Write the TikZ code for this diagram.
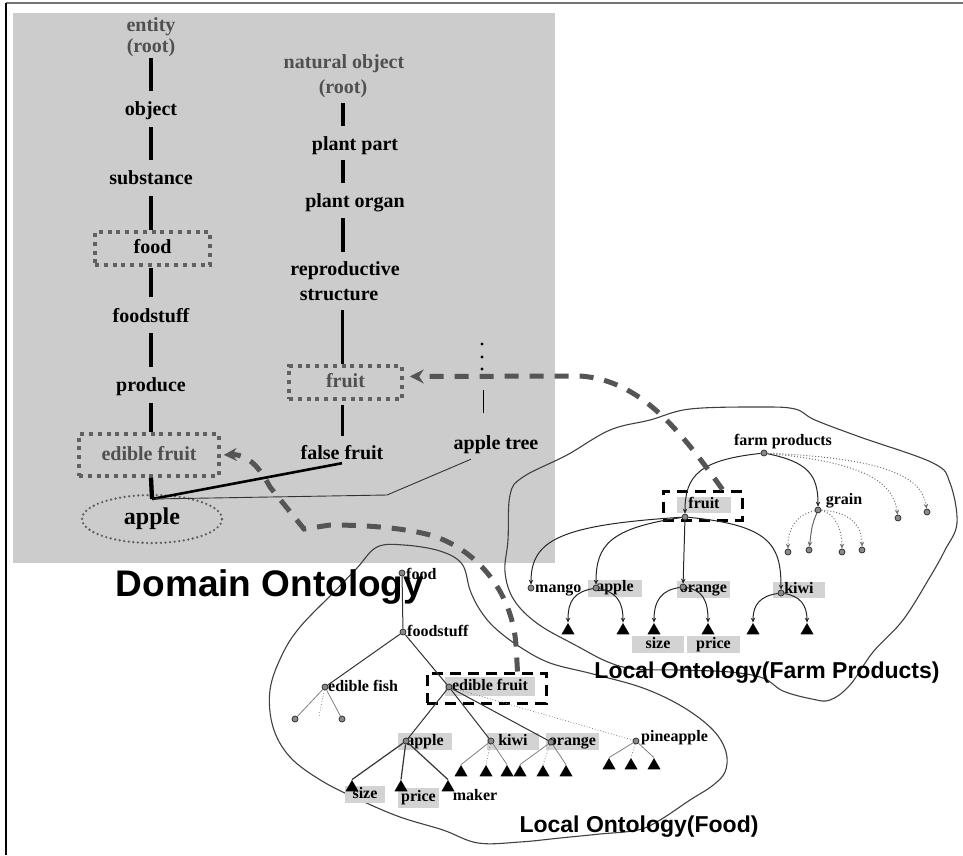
\documentclass[tikz,border=0pt]{standalone}
\usepackage{fontspec}
\setmainfont{Liberation Serif}
\newfontfamily\headfont{Liberation Sans}
\usetikzlibrary{arrows.meta,shapes.geometric}
\definecolor{bggray}{HTML}{CCCCCC}
\definecolor{lblgray}{HTML}{D3D3D3}
\definecolor{txtgray}{HTML}{505050}
\definecolor{boxgray}{HTML}{606060}
\definecolor{dashgray}{HTML}{555555}
\definecolor{dotfill}{HTML}{8A8A8A}
\begin{document}
\begin{tikzpicture}[x=1pt,y=-1pt,
  dl/.style={font=\fontsize{20}{22}\selectfont\bfseries, inner sep=0pt, text height=14pt, text depth=4pt},
  dlg/.style={dl, text=txtgray},
  bar/.style={line width=4.3pt},
  dbox/.style={dl, draw=boxgray, line width=3.5pt, dash pattern=on 4pt off 4.8pt},
  tl/.style={font=\fontsize{16}{18}\selectfont\bfseries, inner sep=0pt, text height=11pt, text depth=3.5pt},
  lbg/.style={tl, fill=lblgray},
  ndot/.style={circle, draw=black!85, fill=dotfill, line width=0.7pt, minimum size=6pt, inner sep=0pt},
  tri/.style={regular polygon, regular polygon sides=3, fill=black, minimum size=15pt, inner sep=0pt},
  arr/.style={draw=black!85, line width=1pt, -{Stealth[length=5pt,width=4.5pt]}},
  darr/.style={arr, draw=black!55, dotted},
  ln/.style={draw=black!80, line width=1pt},
  gln/.style={draw=black!50, line width=0.8pt},
  dln/.style={gln, dotted},
  blob/.style={draw=black!75, line width=1.1pt},
  bigdash/.style={draw=dashgray, line width=5pt, dash pattern=on 14pt off 11pt},
  blkdash/.style={draw=black, line width=3pt, dash pattern=on 11pt off 7pt},
  ttl/.style={font=\headfont\bfseries, inner sep=0pt}
]
\useasboundingbox (0,0) rectangle (963,855);
\draw[line width=1.5pt, black!55] (6,3) -- (963,3);
\draw[line width=1.5pt, black] (6,3) -- (6,855);
\fill[bggray] (13,13) rectangle (555,563);

\coordinate (lc) at (151,0);
\coordinate (rc) at (342.5,0);

% ---- domain ontology, left column
\node[dlg] (entity) at (151,26) {entity};
\node[dlg] (root1) at (151,47) {(root)};
\node[dl] (object) at (151,110) {object};
\node[dl] (substance) at (151,179) {substance};
\node[dbox, minimum width=115pt, minimum height=33pt] (foodbox) at (152.5,248.5) {food};
\node[dl] (foodstuff) at (151,317) {foodstuff};
\node[dl] (produce) at (151,386) {produce};
\node[dbox, text=txtgray, minimum width=140pt, minimum height=42pt] (ebox) at (149,455) {edible fruit};
\node[ellipse, draw=boxgray, line width=2.6pt, dash pattern=on 0pt off 4.6pt, line cap=round,
      minimum width=140pt, minimum height=48pt, inner sep=0pt,
      font=\fontsize{24}{26}\selectfont\bfseries] (apple) at (152,519) {apple};
\coordinate (aj) at (152,499);

% ---- right column
\node[dlg] (nat) at (344,63) {natural object};
\node[dlg] (root2) at (343,88) {(root)};
\node[dl] (plantpart) at (355,145) {plant part};
\node[dl] (plantorgan) at (355,202) {plant organ};
\node[dl] (repro) at (345,270) {reproductive};
\node[dl] (structure) at (339,295) {structure};
\node[dbox, text=txtgray, minimum width=113pt, minimum height=33pt] (fruitbox) at (345.5,382.5) {fruit};
\node[dl] (falsefruit) at (342,454) {false fruit};
\node[dl] (appletree) at (496,444) {apple tree};

% bars
\draw[bar, shorten <=2pt, shorten >=10pt] (root1.south -| lc) -- (object.north -| lc);
\draw[bar, shorten <=8pt, shorten >=10pt] (object.south -| lc) -- (substance.north -| lc);
\draw[bar, shorten <=8pt] (substance.south -| lc) -- (foodbox.north -| lc);
\draw[bar, shorten <=1pt, shorten >=11pt] (foodbox.south -| lc) -- (foodstuff.north -| lc);
\draw[bar, shorten <=7pt, shorten >=10pt] (foodstuff.south -| lc) -- (produce.north -| lc);
\draw[bar, shorten <=8pt] (produce.south -| lc) -- (ebox.north -| lc);
\draw[bar] (ebox.south -| lc) -- (aj);
\draw[line width=4pt, shorten <=6pt, shorten >=10pt] (root2.south -| rc) -- (plantpart.north -| rc);
\draw[line width=4pt, shorten <=6pt, shorten >=10pt] (plantpart.south -| rc) -- (plantorgan.north -| rc);
\draw[line width=4pt, shorten <=7pt, shorten >=9pt] (plantorgan.south -| rc) -- (repro.north -| rc);
\draw[line width=3pt, shorten <=6pt] (structure.south -| rc) -- (fruitbox.north -| rc);
\draw[line width=3pt, shorten <=4pt, shorten >=9pt] (fruitbox.south -| rc) -- (falsefruit.north -| rc);

\draw[line width=2.6pt] (falsefruit.south) -- (aj);
\draw[line width=0.9pt, black!80] (aj) -- (387,495) -- ([xshift=-25pt,yshift=-6pt]appletree.south);
\foreach \yy in {344,357,369} \fill (482,\yy) circle (1.7pt);
\draw[line width=1pt] (483,390) -- (483,413);

% ---- blobs
\draw[blob] plot[smooth cycle, tension=0.6] coordinates {
 (508,540) (510,495) (523,477) (567,455) (610,430) (650,420) (690,409) (760,407)
 (795,409) (815,420) (860,437) (933,463) (950,483) (957,523) (945,550) (930,577)
 (903,620) (873,652) (850,685) (830,700) (812,699) (783,691) (763,678) (730,672)
 (680,670) (635,669) (608,662) (577,646) (538,624) (514,600) (505,572)};
\draw[blob] plot[smooth cycle, tension=0.6] coordinates {
 (377,547) (404,545) (440,551) (462,564) (470,590) (480,610) (495,628) (520,647)
 (550,663) (593,674) (643,688) (683,707) (713,730) (726,752) (725,772) (712,786)
 (690,800) (660,820) (638,830) (600,834) (560,838) (520,842) (478,843) (443,830)
 (400,817) (360,800) (322,781) (290,757) (273,727) (270,690) (282,655) (300,627)
 (333,593) (357,568)};

% ---- farm products tree
\node[tl] (fp) at (783,442) {farm products};
\node[lbg, minimum width=54pt, minimum height=16pt] (fruitl) at (704,505) {fruit};
\node[blkdash, minimum width=79pt, minimum height=29pt, inner sep=0pt] (ffbox) at (702.5,505.5) {};
\node[tl] (grain) at (844,501) {grain};
\node[tl, anchor=west] (mango) at (535,589) {mango};
\node[lbg, minimum width=54pt, minimum height=17pt] (fappl) at (615,588) {apple};
\node[lbg, minimum width=53pt, minimum height=17pt] (forl) at (703.5,589) {orange};
\node[lbg, minimum width=52pt, minimum height=16pt] (fkil) at (799,590) {kiwi};
\node[lbg, minimum width=52pt, minimum height=17pt] (fsize) at (658,644.5) {size};
\node[lbg, minimum width=53pt, minimum height=17pt] (fprice) at (713.5,644.5) {price};

\node[ndot] (fpd) at (764,453) {};
\node[ndot] (frd) at (685,517) {};
\node[ndot] (grd) at (818,510) {};
\node[ndot] (x1) at (898,518) {};
\node[ndot] (x2) at (927,512) {};
\node[ndot] (g1) at (788,552) {};
\node[ndot] (g2) at (809,550) {};
\node[ndot] (g3) at (842,552) {};
\node[ndot] (g4) at (862,550) {};
\node[ndot] (mad) at (531,588) {};
\node[ndot] (fapd) at (596,588) {};
\node[ndot] (ford) at (683,587) {};
\node[ndot] (fkid) at (781,593) {};
\node[tri] (ft1) at (568,630.5) {};
\node[tri] (ft2) at (623,630.5) {};
\node[tri] (ft3) at (654,630.5) {};
\node[tri] (ft4) at (708,630.5) {};
\node[tri] (ft5) at (753,630.5) {};
\node[tri] (ft6) at (807,630.5) {};

\draw[arr] (fpd) .. controls (700,460) and (685,475) .. (frd);
\draw[arr] (fpd) .. controls (808,462) and (818,475) .. (grd);
\draw[darr] (fpd) .. controls (860,462) and (893,480) .. (x1);
\draw[darr] (fpd) .. controls (880,458) and (922,475) .. (x2);
\draw[darr] (grd) .. controls (795,515) and (788,530) .. (g1);
\draw[arr, draw=black!60] (grd) .. controls (812,525) .. (g2);
\draw[darr] (grd) .. controls (835,513) and (842,530) .. (g3);
\draw[darr] (grd) .. controls (855,512) and (862,530) .. (g4);
\draw[arr] (frd) .. controls (560,525) and (531,540) .. (mad);
\draw[arr] (frd) .. controls (610,528) and (596,545) .. (fapd);
\draw[arr] (frd) -- (ford);
\draw[arr] (frd) .. controls (770,525) and (781,545) .. (fkid);
\draw[arr] (fapd) .. controls (575,592) and (568,600) .. (ft1.corner 1);
\draw[arr] (fapd) .. controls (615,592) and (623,600) .. (ft2.corner 1);
\draw[arr] (ford) .. controls (662,590) and (654,600) .. (ft3.corner 1);
\draw[arr] (ford) .. controls (702,590) and (708,600) .. (ft4.corner 1);
\draw[arr] (fkid) .. controls (760,596) and (753,605) .. (ft5.corner 1);
\draw[arr] (fkid) .. controls (800,596) and (807,605) .. (ft6.corner 1);

% ---- food tree
\node[tl, anchor=west] (foodt) at (406,576) {food};
\node[tl, anchor=west] (foodstufft) at (407,633) {foodstuff};
\node[tl, anchor=west] (efish) at (328,688) {edible fish};
\node[lbg, minimum width=90pt, minimum height=19pt] (efl) at (490,686.5) {edible fruit};
\node[blkdash, minimum width=119pt, minimum height=30pt, inner sep=0pt] (efbox) at (486.5,688) {};
\node[lbg, minimum width=54pt, minimum height=17pt] (dapl) at (425,741.5) {apple};
\node[lbg, minimum width=52pt, minimum height=17pt] (dkil) at (513,741.5) {kiwi};
\node[lbg, minimum width=53pt, minimum height=17pt] (dorl) at (572.5,741.5) {orange};
\node[tl, anchor=west] (dpil) at (641,738) {pineapple};
\node[lbg, minimum width=40pt, minimum height=17pt] (dsize) at (365,794.5) {size};
\node[lbg, minimum width=41pt, minimum height=20pt] (dprice) at (418.5,798) {price};
\node[tl] (dmaker) at (475,797) {maker};

\node[ndot] (fdd) at (402,573) {};
\node[ndot] (fsd) at (403,632) {};
\node[ndot] (efd) at (325,687) {};
\node[ndot] (ef1) at (295,719) {};
\node[ndot] (ef2) at (342,719) {};
\coordinate (ef3) at (319,716);
\node[ndot] (efrd) at (449,687) {};
\node[ndot] (dapd) at (406,741) {};
\node[ndot] (dkid) at (491,741) {};
\node[ndot] (dord) at (551,742) {};
\node[ndot] (dpid) at (636,741) {};
\node[tri] (dt1) at (352,787.5) {};
\node[tri] (dt2) at (401,787.5) {};
\node[tri] (dt3) at (448,787.5) {};
\node[tri] (dt4) at (461,772.5) {};
\node[tri] (dt5) at (486,772.5) {};
\node[tri] (dt6) at (507,772.5) {};
\node[tri] (dt7) at (520,772.5) {};
\node[tri] (dt8) at (543,772.5) {};
\node[tri] (dt9) at (566,772.5) {};
\node[tri] (dt10) at (609,765.5) {};
\node[tri] (dt11) at (631,765.5) {};
\node[tri] (dt12) at (654,765.5) {};

\draw[ln] (fdd) -- (fsd);
\draw[ln] (fsd) -- (efd);
\draw[ln] (fsd) -- (efrd);
\draw[gln] (efd) -- (ef1);
\draw[dln] (efd) -- (ef3);
\draw[gln] (efd) -- (ef2);
\draw[ln] (efrd) -- (dapd);
\draw[ln] (efrd) -- (dkid);
\draw[ln] (efrd) -- (dord);
\draw[dln] (efrd) -- (dpid);
\draw[ln, line width=1.2pt] (dapd) -- (dt1.corner 1);
\draw[ln, line width=1.2pt] (dapd) -- (dt2.corner 1);
\draw[ln, line width=1.2pt] (dapd) -- (dt3.corner 1);
\draw[gln] (dkid) -- (dt4.corner 1);
\draw[dln] (dkid) -- (dt5.corner 1);
\draw[gln] (dkid) -- (dt6.corner 1);
\draw[gln] (dord) -- (dt7.corner 1);
\draw[dln] (dord) -- (dt8.corner 1);
\draw[gln] (dord) -- (dt9.corner 1);
\draw[gln] (dpid) -- (dt10.corner 1);
\draw[dln] (dpid) -- (dt11.corner 1);
\draw[gln] (dpid) -- (dt12.corner 1);

% ---- big dashed mapping arrows
\draw[bigdash, -{Stealth[length=14pt,width=14pt]}, shorten >=6pt]
  ([xshift=20pt]ffbox.north) .. controls (680,430) and (640,380) .. (580,376) -- ([yshift=6pt]fruitbox.east);
\draw[bigdash, -{Stealth[length=13pt,width=13pt]}, shorten >=3pt]
  ([xshift=31pt]efbox.north) -- (516,645) .. controls (512,590) and (475,548) .. (430,535)
  .. controls (400,527) and (360,525) .. (330,525) -- (304,529) -- (270,487)
  .. controls (260,468) and (248,454) .. (ebox.east);

% ---- titles
\node[ttl, font=\headfont\bfseries\fontsize{37}{40}\selectfont] (dom) at (270,587) {Domain Ontology};
\node[ttl, font=\headfont\bfseries\fontsize{23}{26}\selectfont] (lof) at (767,673) {Local Ontology(Farm Products)};
\node[ttl, font=\headfont\bfseries\fontsize{23}{26}\selectfont] (lofood) at (639,827) {Local Ontology(Food)};
\end{tikzpicture}
\end{document}
